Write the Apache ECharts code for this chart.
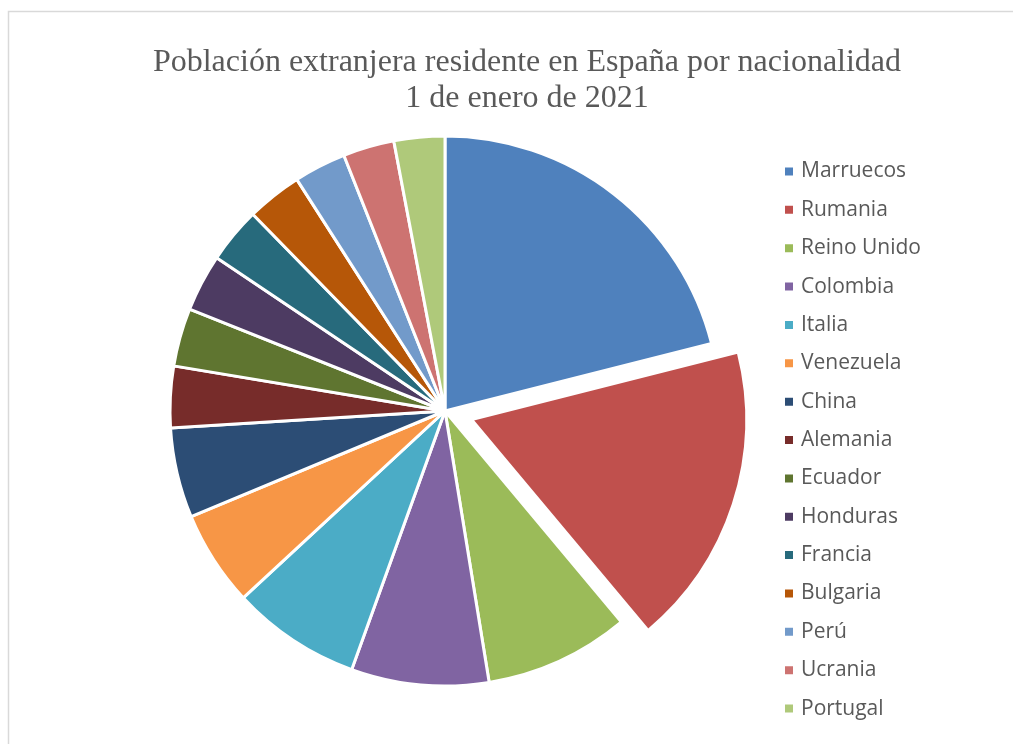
<!DOCTYPE html>
<html>
<head>
<meta charset="utf-8">
<script src="https://cdn.jsdelivr.net/npm/echarts@6/dist/echarts.min.js"></script>
<style>
html,body{margin:0;padding:0;background:#fff;}
#chart{width:1013px;height:744px;}
</style>
</head>
<body>
<div id="chart"></div>
<script>
const titleLines = ['Población extranjera residente en España por nacionalidad', '1 de enero de 2021'];
const categories = ['Marruecos','Rumania','Reino Unido','Colombia','Italia','Venezuela','China','Alemania','Ecuador','Honduras','Francia','Bulgaria','Perú','Ucrania','Portugal'];
const values = [775936, 658773, 313948, 297934, 280152, 207000, 195000, 133000, 126000, 124000, 121000, 120000, 113000, 111000, 110000];
const colors = ['#4F81BD','#C0504D','#9BBB59','#8064A2','#4BACC6','#F79646','#2C4D75','#772C2A','#5F7530','#4D3B62','#276A7C','#B65708','#729ACA','#CD7371','#AFC97A'];
const explodedCategory = 'Rumania';

const chart = echarts.init(document.getElementById('chart'), null, {renderer:'canvas'});
const data = categories.map((c, i) => ({
  name: c,
  value: values[i],
  selected: c === explodedCategory,
  itemStyle: {color: colors[i]}
}));

chart.setOption({
  animation: false,
  backgroundColor: '#ffffff',
  color: colors,
  graphic: [
    {type:'rect', silent:true, shape:{x:8.5, y:11.5, width:1100, height:800},
     style:{fill:'none', stroke:'#D9D9D9', lineWidth:1.5}},
    {type:'text', silent:true, x:527, y:45,
     style:{text: titleLines.join('\n'), textAlign:'center', textVerticalAlign:'top',
            font:'32px "Liberation Serif", "Times New Roman", serif', lineHeight:36, fill:'#595959'}}
  ],
  legend: {
    orient: 'vertical',
    left: 783,
    top: 161,
    padding: 0,
    icon: 'rect',
    itemWidth: 10,
    itemHeight: 10,
    itemGap: 17.36,
    selectedMode: false,
    data: categories,
    textStyle: {fontFamily:'"Open Sans", sans-serif', fontSize:21, lineHeight:21, color:'#595959', padding:[0,0,0,2]}
  },
  series: [{
    type: 'pie',
    center: [445, 411],
    radius: 275,
    startAngle: 90,
    clockwise: true,
    selectedMode: 'single',
    selectedOffset: 28,
    avoidLabelOverlap: false,
    label: {show:false},
    labelLine: {show:false},
    emphasis: {disabled:true, scale:false},
    itemStyle: {borderColor:'#ffffff', borderWidth:3},
    data: data
  }]
});
</script>
</body>
</html>
